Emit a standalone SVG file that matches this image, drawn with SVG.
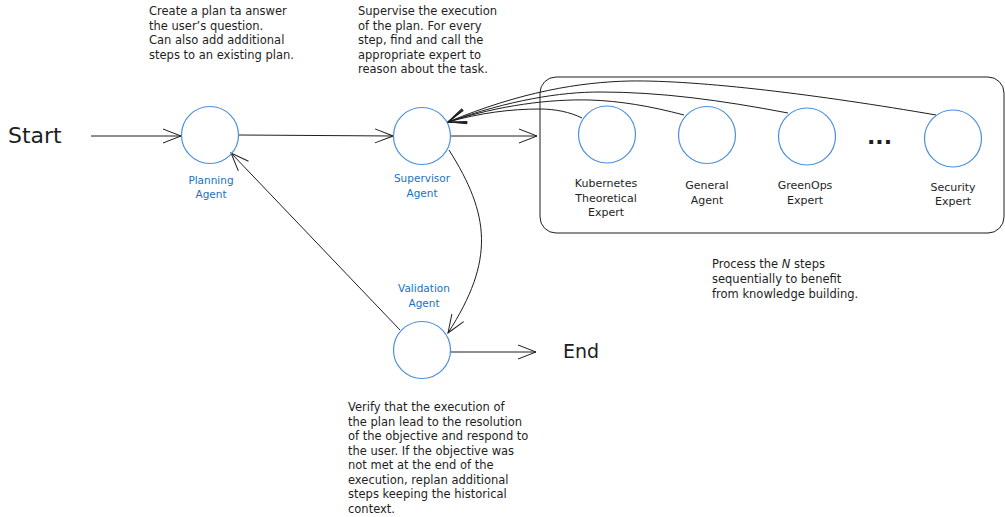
<svg xmlns="http://www.w3.org/2000/svg" width="1005" height="517" viewBox="0 0 1005 517">
<style>
.node circle{fill:none;stroke:#4a8fdb;stroke-width:1.2}
.lbl{font-family:"DejaVu Sans","Liberation Sans",sans-serif;font-size:10.5px;fill:#1971c2;text-anchor:middle}
.elbl{font-family:"DejaVu Sans","Liberation Sans",sans-serif;font-size:11px;fill:#1e1e1e;text-anchor:middle}
.note{font-family:"DejaVu Sans","Liberation Sans",sans-serif;font-size:11.5px;fill:#1e1e1e}
.big{font-family:"DejaVu Sans","Liberation Sans",sans-serif;fill:#1e1e1e}
.conn path,.conn line{fill:none;stroke:#1e1e1e;stroke-width:1}
</style>
<defs>
<marker id="arr" markerUnits="userSpaceOnUse" viewBox="0 0 20 16" markerWidth="20" markerHeight="16" refX="19" refY="8" orient="auto">
<path d="M1,1 L19,8 L1,15" fill="none" stroke="#1e1e1e" stroke-width="1"/>
</marker>
</defs>
<rect width="1005" height="517" fill="#ffffff"/>

<g id="expert-group">
<rect x="540" y="77" width="464" height="156" rx="16" fill="none" stroke="#1e1e1e" stroke-width="1"/>
</g>

<g class="conn" id="connectors">
<line x1="91" y1="136" x2="181" y2="136" marker-end="url(#arr)"/>
<line x1="239" y1="135" x2="393" y2="136" marker-end="url(#arr)"/>
<line x1="451" y1="136" x2="537" y2="136" marker-end="url(#arr)"/>
<path d="M582,118 C570,112 555,109 540,109 C510,109 480,113 448,122" marker-end="url(#arr)"/>
<path d="M684,115 C650,106 620,101 590,100 C550,99 500,105 448,122" marker-end="url(#arr)"/>
<path d="M788,113 C720,100 660,92 600,92 C560,92 510,100 448,122" marker-end="url(#arr)"/>
<path d="M936,115 C820,95 700,80 630,81 C580,82 520,92 448,122" marker-end="url(#arr)"/>
<path d="M449,150 C490,215 495,260 448,333" marker-end="url(#arr)"/>
<line x1="400" y1="330" x2="231" y2="153" marker-end="url(#arr)"/>
<line x1="451" y1="352" x2="536" y2="352" marker-end="url(#arr)"/>
</g>

<g id="start"><text class="big" x="8" y="143" font-size="22">Start</text></g>
<g id="end"><text class="big" x="563" y="358" font-size="19">End</text></g>

<g class="node" id="planning-agent">
<circle cx="210" cy="135" r="28.5"/>
<text class="lbl" x="211" y="184">Planning</text>
<text class="lbl" x="211" y="198">Agent</text>
</g>
<g class="node" id="supervisor-agent">
<circle cx="422" cy="136" r="28.5"/>
<text class="lbl" x="422" y="182">Supervisor</text>
<text class="lbl" x="422" y="197">Agent</text>
</g>
<g class="node" id="validation-agent">
<circle cx="422" cy="350" r="28.5"/>
<text class="lbl" x="424" y="292">Validation</text>
<text class="lbl" x="424" y="307">Agent</text>
</g>
<g class="node" id="kubernetes-expert">
<circle cx="607" cy="134.5" r="28.5"/>
<text class="elbl" x="606" y="187">Kubernetes</text>
<text class="elbl" x="606" y="202">Theoretical</text>
<text class="elbl" x="606" y="216">Expert</text>
</g>
<g class="node" id="general-agent">
<circle cx="707" cy="135" r="28.5"/>
<text class="elbl" x="707" y="189">General</text>
<text class="elbl" x="707" y="204">Agent</text>
</g>
<g class="node" id="greenops-expert">
<circle cx="807" cy="136.5" r="28.5"/>
<text class="elbl" x="805" y="189">GreenOps</text>
<text class="elbl" x="805" y="204">Expert</text>
</g>
<g id="ellipsis"><text class="big" x="867" y="144" font-size="22" font-weight="bold">...</text></g>
<g class="node" id="security-expert">
<circle cx="953" cy="138.5" r="28.5"/>
<text class="elbl" x="953" y="191">Security</text>
<text class="elbl" x="953" y="205">Expert</text>
</g>

<g id="notes">
<text class="note" x="149" y="15">Create a plan ta answer</text>
<text class="note" x="149" y="29.5">the user’s question.</text>
<text class="note" x="149" y="44">Can also add additional</text>
<text class="note" x="149" y="58.5">steps to an existing plan.</text>

<text class="note" x="358" y="15">Supervise the execution</text>
<text class="note" x="358" y="29.5">of the plan. For every</text>
<text class="note" x="358" y="44">step, find and call the</text>
<text class="note" x="358" y="58.5">appropriate expert to</text>
<text class="note" x="358" y="73">reason about the task.</text>

<text class="note" x="712" y="268">Process the <tspan font-style="italic">N</tspan> steps</text>
<text class="note" x="712" y="283">sequentially to benefit</text>
<text class="note" x="712" y="298">from knowledge building.</text>

<text class="note" x="348" y="411">Verify that the execution of</text>
<text class="note" x="348" y="425.5">the plan lead to the resolution</text>
<text class="note" x="348" y="440">of the objective and respond to</text>
<text class="note" x="348" y="454.5">the user. If the objective was</text>
<text class="note" x="348" y="469">not met at the end of the</text>
<text class="note" x="348" y="483.5">execution, replan additional</text>
<text class="note" x="348" y="498">steps keeping the historical</text>
<text class="note" x="348" y="512.5">context.</text>
</g>
</svg>
